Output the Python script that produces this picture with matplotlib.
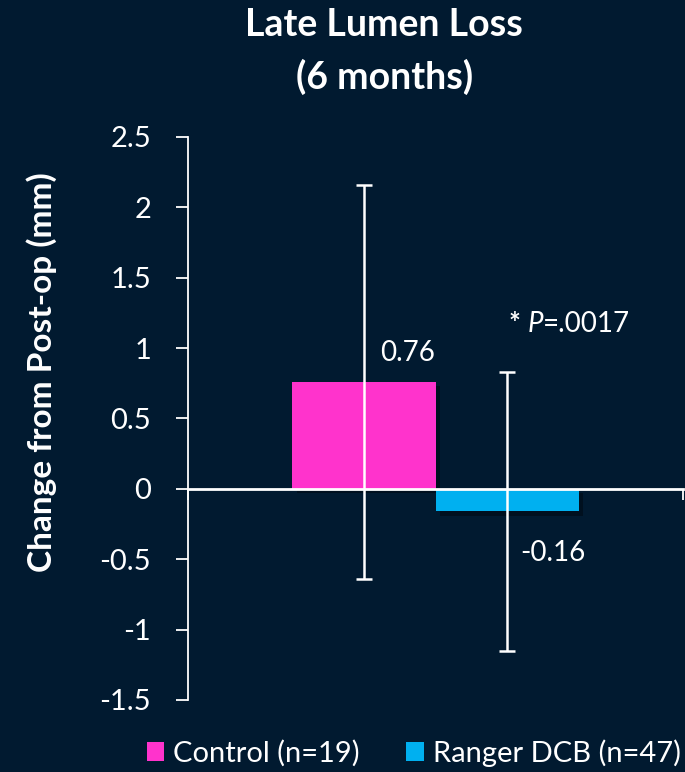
import matplotlib.pyplot as plt
import matplotlib.patheffects as pe
from matplotlib.patches import Patch

plt.rcParams['font.family'] = ['Lato', 'DejaVu Sans']

groups = ['Control (n=19)', 'Ranger DCB (n=47)']
means = [0.76, -0.16]
errors = [1.40, 0.99]
value_labels = ['0.76', '-0.16']
colors = ['#FF33CC', '#00B0F0']
yticks = [-1.5, -1, -0.5, 0, 0.5, 1, 1.5, 2, 2.5]
ytick_labels = ['-1.5', '-1', '-0.5', '0', '0.5', '1', '1.5', '2', '2.5']
p_value = '=.0017'

bg = '#011a30'
fig = plt.figure(figsize=(6.85, 7.72), dpi=100, facecolor=bg)
ax = fig.add_axes([0.2745, 0.0933, 0.7226, 0.7293], facecolor=bg)

width = 0.289
offsets = [-0.1445, 0.1445]
shadow = [pe.SimplePatchShadow(offset=(3, -3), shadow_rgbFace='black', alpha=0.35), pe.Normal()]
for off, m, e, c in zip(offsets, means, errors, colors):
    ax.bar(0.5 + off, m, width=width, color=c, zorder=2, path_effects=shadow)
    ax.errorbar(0.5 + off, m, yerr=e, fmt='none', ecolor='white', elinewidth=1.8,
                capsize=6, capthick=1.8, zorder=3)

ax.text(0.5 + offsets[0] + 0.033, means[0] + 0.11, value_labels[0], color='white',
        fontsize=20, ha='left', va='bottom')
ax.text(0.5 + offsets[1] + 0.027, means[1] - 0.2, value_labels[1], color='white',
        fontsize=20, ha='left', va='top')

# significance note: bold star, italic P, then the value
star = ax.text(0.5 + offsets[1] + 0.003, 1.08, '*', color='white', fontsize=20,
               fontweight='bold', ha='left', va='bottom')
p = ax.annotate('P', xy=(1, 0), xycoords=star, xytext=(5, 0), textcoords='offset points',
                color='white', fontsize=20, style='italic', ha='left', va='bottom')
ax.annotate(p_value, xy=(1, 0), xycoords=p, xytext=(0, 0), textcoords='offset points',
            color='white', fontsize=20, ha='left', va='bottom')

ax.set_xlim(0, 1)
ax.set_ylim(-1.5, 2.5)
ax.set_yticks(yticks)
ax.set_yticklabels(ytick_labels)
ax.set_xticks([0, 1])
ax.set_xticklabels([])

for s in ['top', 'right']:
    ax.spines[s].set_visible(False)
ax.spines['left'].set_color('white')
ax.spines['left'].set_linewidth(1.3)
ax.spines['bottom'].set_position(('data', 0))
ax.spines['bottom'].set_color('white')
ax.spines['bottom'].set_linewidth(2)
ax.spines['bottom'].set_zorder(4)
ax.tick_params(axis='y', colors='white', labelsize=21, length=8.6, width=1.3, pad=18)
ax.tick_params(axis='x', colors='white', length=8, width=1.3)

ax.set_ylabel('Change from Post-op (mm)', color='white', fontsize=24, fontweight='bold')
ax.yaxis.set_label_coords(57 / 685, 1 - 372 / 772, transform=fig.transFigure)

fig.text(0.561, 0.968, 'Late Lumen Loss', color='white', fontsize=27,
         fontweight='bold', ha='center', va='center')
fig.text(0.561, 0.9, '(6 months)', color='white', fontsize=27,
         fontweight='bold', ha='center', va='center')

handles = [Patch(facecolor=c, edgecolor='none') for c in colors]
fig.legend(handles, groups, loc='center', bbox_to_anchor=(0.604, 0.0246), ncol=2,
           frameon=False, fontsize=21, labelcolor='white', handlelength=0.6,
           handleheight=0.6, handletextpad=0.3, columnspacing=1.6,
           borderpad=0, borderaxespad=0)

fig.savefig('out.png', dpi=100, facecolor=bg)
